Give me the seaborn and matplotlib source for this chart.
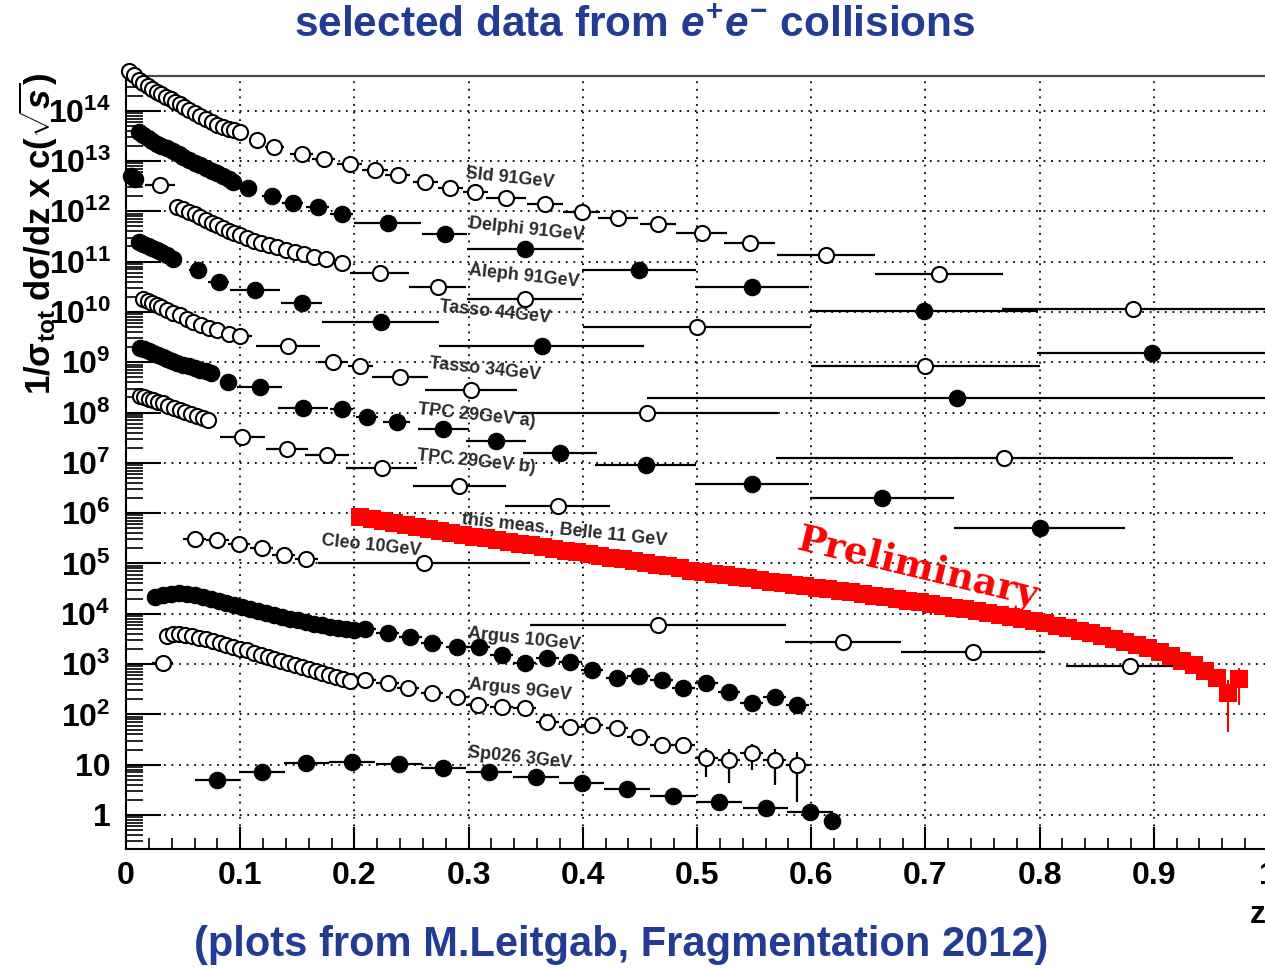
import numpy as np
import pandas as pd
import matplotlib
matplotlib.use("Agg")
import matplotlib.pyplot as plt
import seaborn as sns
from matplotlib.ticker import FixedLocator, FuncFormatter, LogLocator, MultipleLocator, NullFormatter

# ---------------------------------------------------------------------------
# Data: z, log10 of (1/sigma_tot dsigma/dz x c(sqrt s)), half bin width in z
# ---------------------------------------------------------------------------
sld_z = [0.003, 0.007, 0.011, 0.015, 0.019, 0.023, 0.027, 0.031, 0.035, 0.039, 0.043, 0.047,
         0.051, 0.055, 0.060, 0.065, 0.070, 0.075, 0.080, 0.085, 0.090, 0.095, 0.100,
         0.115, 0.130, 0.154, 0.173, 0.196, 0.218, 0.238, 0.262, 0.284, 0.306, 0.333, 0.367,
         0.399, 0.431, 0.466, 0.504, 0.546, 0.613, 0.712, 0.882]
sld_lg = [14.78, 14.70, 14.62, 14.55, 14.49, 14.43, 14.38, 14.33, 14.28, 14.23, 14.18, 14.13,
          14.08, 14.02, 13.95, 13.89, 13.83, 13.77, 13.72, 13.68, 13.64, 13.61, 13.58,
          13.42, 13.28, 13.14, 13.04, 12.94, 12.82, 12.72, 12.58, 12.47, 12.39, 12.27, 12.15,
          11.99, 11.87, 11.75, 11.57, 11.37, 11.13, 10.76, 10.06]
sld_dz = [0, 0, 0, 0, 0, 0, 0, 0, 0, 0, 0, 0,
          0, 0, 0, 0, 0, 0, 0, 0, 0, 0, 0,
          0.007, 0.008, 0.010, 0.010, 0.011, 0.011, 0.011, 0.011, 0.011, 0.011, 0.0175, 0.016,
          0.016, 0.0175, 0.016, 0.022, 0.022, 0.043, 0.056, 0.115]

delphi_z = [0.004, 0.008, 0.011, 0.015, 0.019, 0.023, 0.027, 0.031, 0.036, 0.041, 0.046, 0.050,
            0.055, 0.060, 0.065, 0.070, 0.075, 0.080, 0.085, 0.090, 0.094,
            0.107, 0.128, 0.146, 0.168, 0.189, 0.229, 0.279, 0.349, 0.449, 0.548, 0.699, 0.898]
delphi_lg = [12.70, 12.64, 13.58, 13.51, 13.46, 13.39, 13.34, 13.30, 13.26, 13.19, 13.13, 13.08,
             13.03, 12.97, 12.92, 12.87, 12.81, 12.76, 12.70, 12.64, 12.58,
             12.47, 12.31, 12.17, 12.09, 11.95, 11.77, 11.55, 11.25, 10.84, 10.50, 10.02, 9.18]
delphi_dz = [0, 0, 0, 0, 0, 0, 0, 0, 0, 0, 0, 0,
             0, 0, 0, 0, 0, 0, 0, 0, 0,
             0.007, 0.009, 0.009, 0.010, 0.010, 0.029, 0.020, 0.050, 0.050, 0.050, 0.100, 0.100]

aleph_z = [0.030, 0.045, 0.050, 0.055, 0.060, 0.065, 0.070, 0.075, 0.080, 0.085, 0.090, 0.095,
           0.100, 0.106, 0.112, 0.118, 0.125, 0.132, 0.140, 0.148, 0.156, 0.165, 0.175, 0.189,
           0.222, 0.273, 0.349, 0.500, 0.700]
aleph_lg = [12.52, 12.09, 12.04, 11.99, 11.94, 11.89, 11.83, 11.77, 11.72, 11.66, 11.61, 11.56,
            11.52, 11.47, 11.42, 11.38, 11.33, 11.29, 11.24, 11.19, 11.15, 11.10, 11.05, 10.97,
            10.78, 10.50, 10.26, 9.70, 8.93]
aleph_dz = [0.013, 0, 0, 0, 0, 0, 0, 0, 0, 0, 0, 0,
            0, 0, 0, 0, 0, 0, 0, 0, 0, 0, 0, 0,
            0.026, 0.025, 0.050, 0.100, 0.100]

tasso44_z = [0.011, 0.015, 0.019, 0.023, 0.027, 0.031, 0.036, 0.041, 0.063, 0.081, 0.113, 0.154,
             0.223, 0.364, 0.728]
tasso44_lg = [11.39, 11.35, 11.31, 11.27, 11.23, 11.19, 11.13, 11.05, 10.83, 10.60, 10.44, 10.18,
              9.80, 9.32, 8.29]
tasso44_dz = [0, 0, 0, 0, 0, 0, 0, 0, 0.008, 0.009, 0.022, 0.018,
              0.051, 0.090, 0.272]

tasso34_z = [0.015, 0.019, 0.023, 0.027, 0.031, 0.036, 0.041, 0.047, 0.053, 0.059, 0.066, 0.073,
             0.080, 0.090, 0.100, 0.142, 0.181, 0.205, 0.240, 0.302, 0.456, 0.769]
tasso34_lg = [10.26, 10.22, 10.18, 10.14, 10.10, 10.04, 9.98, 9.93, 9.86, 9.80, 9.74, 9.69,
              9.64, 9.56, 9.52, 9.32, 9.01, 8.93, 8.71, 8.45, 7.99, 7.10]
tasso34_dz = [0, 0, 0, 0, 0, 0, 0, 0, 0, 0, 0, 0,
              0, 0.005, 0.010, 0.028, 0.013, 0.011, 0.0245, 0.040, 0.115, 0.200]

tpca_z = [0.012, 0.016, 0.020, 0.024, 0.028, 0.032, 0.036, 0.040, 0.045, 0.050, 0.055, 0.060,
          0.065, 0.070, 0.074, 0.089, 0.117, 0.155, 0.189, 0.211, 0.237, 0.278, 0.324, 0.380,
          0.455, 0.548, 0.662, 0.800]
tpca_lg = [9.28, 9.26, 9.22, 9.18, 9.14, 9.10, 9.06, 9.02, 8.99, 8.95, 8.92, 8.88,
           8.85, 8.82, 8.79, 8.61, 8.51, 8.09, 8.07, 7.91, 7.81, 7.67, 7.44, 7.20,
           6.96, 6.58, 6.30, 5.71]
tpca_dz = [0, 0, 0, 0, 0, 0, 0, 0, 0, 0, 0, 0,
           0, 0, 0, 0.005, 0.020, 0.022, 0.010, 0.010, 0.012, 0.022, 0.026, 0.032,
           0.044, 0.050, 0.063, 0.075]

tpcb_z = [0.012, 0.016, 0.020, 0.024, 0.028, 0.032, 0.037, 0.042, 0.047, 0.052, 0.057, 0.062,
          0.067, 0.072, 0.102, 0.141, 0.176, 0.224, 0.292, 0.378]
tpcb_lg = [8.33, 8.30, 8.27, 8.24, 8.21, 8.18, 8.14, 8.10, 8.06, 8.02, 7.98, 7.94,
           7.89, 7.85, 7.51, 7.28, 7.16, 6.90, 6.54, 6.14]
tpcb_dz = [0, 0, 0, 0, 0, 0, 0, 0, 0, 0, 0, 0,
           0, 0, 0.020, 0.018, 0.019, 0.031, 0.041, 0.046]

belle_z = [0.205, 0.215, 0.225, 0.235, 0.245, 0.255, 0.265, 0.275, 0.285, 0.295,
           0.305, 0.315, 0.325, 0.335, 0.345, 0.355, 0.365, 0.375, 0.385, 0.395,
           0.405, 0.415, 0.425, 0.435, 0.445, 0.455, 0.465, 0.475, 0.485, 0.495,
           0.505, 0.515, 0.525, 0.535, 0.545, 0.555, 0.565, 0.575, 0.585, 0.595,
           0.605, 0.615, 0.625, 0.635, 0.645, 0.655, 0.665, 0.675, 0.685, 0.695,
           0.705, 0.715, 0.725, 0.735, 0.745, 0.755, 0.765, 0.775, 0.785, 0.795,
           0.805, 0.815, 0.825, 0.835, 0.845, 0.855, 0.865, 0.875, 0.885, 0.895,
           0.905, 0.915, 0.925, 0.935, 0.945, 0.955, 0.965, 0.975]
belle_lg = [5.93, 5.89, 5.85, 5.81, 5.77, 5.73, 5.69, 5.65, 5.61, 5.57,
            5.53, 5.50, 5.46, 5.43, 5.39, 5.36, 5.32, 5.29, 5.25, 5.22,
            5.18, 5.15, 5.11, 5.08, 5.04, 5.01, 4.97, 4.94, 4.90, 4.86,
            4.83, 4.80, 4.77, 4.74, 4.71, 4.67, 4.64, 4.61, 4.58, 4.55,
            4.52, 4.49, 4.46, 4.43, 4.40, 4.36, 4.33, 4.30, 4.26, 4.23,
            4.19, 4.16, 4.12, 4.09, 4.05, 4.01, 3.97, 3.93, 3.89, 3.85,
            3.81, 3.76, 3.71, 3.66, 3.61, 3.56, 3.50, 3.44, 3.38, 3.31,
            3.24, 3.16, 3.07, 2.98, 2.87, 2.73, 2.42, 2.70]
# statistical errors of the highest-z Belle bins (absolute, same units as the values)
belle_tail_z = [0.965, 0.975]
belle_tail_err = [218.0, 346.0]

cleo_z = [0.060, 0.080, 0.099, 0.119, 0.138, 0.158, 0.261, 0.466, 0.628, 0.742, 0.879]
cleo_lg = [5.49, 5.47, 5.39, 5.31, 5.17, 5.09, 5.01, 3.78, 3.44, 3.24, 2.96]
cleo_dz = [0.010, 0.010, 0.010, 0.010, 0.010, 0.010, 0.093, 0.112, 0.051, 0.063, 0.056]

argus10_z = [0.025, 0.032, 0.039, 0.046, 0.053, 0.060, 0.067, 0.074, 0.081, 0.088, 0.095, 0.102,
             0.109, 0.116, 0.123, 0.130, 0.137, 0.144, 0.151, 0.158, 0.165, 0.172, 0.179, 0.186,
             0.193, 0.200, 0.209, 0.229, 0.249, 0.268, 0.290, 0.309, 0.329, 0.349, 0.369, 0.389,
             0.408, 0.430, 0.449, 0.469, 0.488, 0.508, 0.528, 0.548, 0.568, 0.588]
argus10_lg = [4.33, 4.37, 4.40, 4.41, 4.40, 4.37, 4.33, 4.29, 4.25, 4.21, 4.17, 4.13,
              4.09, 4.05, 4.02, 3.98, 3.94, 3.90, 3.87, 3.84, 3.80, 3.77, 3.73, 3.71,
              3.69, 3.67, 3.70, 3.62, 3.54, 3.42, 3.34, 3.34, 3.18, 3.02, 3.12, 3.04,
              2.88, 2.72, 2.76, 2.68, 2.52, 2.62, 2.45, 2.23, 2.35, 2.19]
argus10_dz = [0, 0, 0, 0, 0, 0, 0, 0, 0, 0, 0, 0,
              0, 0, 0, 0, 0, 0, 0, 0, 0, 0, 0, 0,
              0, 0, 0.010, 0.010, 0.010, 0.010, 0.010, 0.010, 0.010, 0.010, 0.010, 0.010,
              0.010, 0.010, 0.010, 0.010, 0.010, 0.010, 0.010, 0.010, 0.010, 0.010]

argus9_z = [0.032, 0.036, 0.041, 0.046, 0.052, 0.058, 0.064, 0.070, 0.076, 0.082, 0.088, 0.094,
            0.100, 0.106, 0.112, 0.118, 0.124, 0.130, 0.136, 0.142, 0.148, 0.154, 0.160, 0.166,
            0.172, 0.178, 0.184, 0.190, 0.196, 0.209, 0.229, 0.247, 0.268, 0.290, 0.308, 0.329,
            0.349, 0.369, 0.389, 0.408, 0.430, 0.449, 0.469, 0.488, 0.508, 0.528, 0.548, 0.568,
            0.588]
argus9_lg = [3.02, 3.56, 3.60, 3.60, 3.58, 3.55, 3.52, 3.49, 3.46, 3.42, 3.38, 3.34,
             3.30, 3.27, 3.23, 3.19, 3.15, 3.11, 3.07, 3.03, 2.99, 2.94, 2.90, 2.86,
             2.82, 2.78, 2.74, 2.70, 2.66, 2.68, 2.62, 2.52, 2.43, 2.35, 2.19, 2.15,
             2.13, 1.85, 1.75, 1.79, 1.73, 1.55, 1.39, 1.39, 1.13, 1.09, 1.23, 1.09,
             0.99]
argus9_dz = [0.009, 0, 0, 0, 0, 0, 0, 0, 0, 0, 0, 0,
             0, 0, 0, 0, 0, 0, 0, 0, 0, 0, 0, 0,
             0, 0, 0, 0, 0, 0.010, 0.010, 0.010, 0.010, 0.010, 0.010, 0.010,
             0.010, 0.010, 0.010, 0.010, 0.010, 0.010, 0.010, 0.010, 0.010, 0.010, 0.010, 0.010,
             0.010]
argus9_yerr = [0, 0, 0, 0, 0, 0, 0, 0, 0, 0, 0, 0,
               0, 0, 0, 0, 0, 0, 0, 0, 0, 0, 0, 0,
               0, 0, 0, 0, 0, 0, 0, 0, 0, 0, 0, 0,
               0, 0, 0, 0, 0, 0, 0, 0, 7.7, 7.9, 9.2, 8.3,
               8.0]

sp026_z = [0.080, 0.119, 0.158, 0.198, 0.239, 0.278, 0.318, 0.359, 0.399, 0.439, 0.479, 0.519,
           0.560, 0.599, 0.618]
sp026_lg = [0.70, 0.85, 1.03, 1.05, 1.01, 0.93, 0.85, 0.76, 0.64, 0.52, 0.38, 0.26,
            0.14, 0.06, -0.12]
sp026_dz = [0.020, 0.020, 0.020, 0.020, 0.020, 0.020, 0.020, 0.020, 0.020, 0.020, 0.020, 0.020,
            0.020, 0.020, 0.0]

decade_exponents = list(range(0, 15))
x_tick_values = [0.0, 0.1, 0.2, 0.3, 0.4, 0.5, 0.6, 0.7, 0.8, 0.9, 1.0]

# (name, z, log10 value, half bin width, optional y error, open marker?)
series = [
    ("Sld 91GeV", sld_z, sld_lg, sld_dz, None, True),
    ("Delphi 91GeV", delphi_z, delphi_lg, delphi_dz, None, False),
    ("Aleph 91GeV", aleph_z, aleph_lg, aleph_dz, None, True),
    ("Tasso 44GeV", tasso44_z, tasso44_lg, tasso44_dz, None, False),
    ("Tasso 34GeV", tasso34_z, tasso34_lg, tasso34_dz, None, True),
    ("TPC 29GeV a)", tpca_z, tpca_lg, tpca_dz, None, False),
    ("TPC 29GeV b)", tpcb_z, tpcb_lg, tpcb_dz, None, True),
    ("Cleo 10GeV", cleo_z, cleo_lg, cleo_dz, None, True),
    ("Argus 10GeV", argus10_z, argus10_lg, argus10_dz, None, False),
    ("Argus 9GeV", argus9_z, argus9_lg, argus9_dz, argus9_yerr, True),
    ("Sp026 3GeV", sp026_z, sp026_lg, sp026_dz, None, False),
]

# ---------------------------------------------------------------------------
# Style
# ---------------------------------------------------------------------------
sns.set_theme(style="white")
plt.rcParams["font.family"] = ["Liberation Sans", "DejaVu Sans"]
plt.rcParams["font.weight"] = "bold"
plt.rcParams["text.color"] = "black"
plt.rcParams["xtick.color"] = "black"
plt.rcParams["ytick.color"] = "black"
plt.rcParams["xtick.labelcolor"] = "black"
plt.rcParams["ytick.labelcolor"] = "black"
plt.rcParams["mathtext.fontset"] = "custom"
plt.rcParams["mathtext.rm"] = "Liberation Sans:bold"
plt.rcParams["mathtext.bf"] = "Liberation Sans:bold"
plt.rcParams["mathtext.it"] = "Liberation Sans:bold:italic"

W, H = 1265, 968
fig = plt.figure(figsize=(W / 100, H / 100), dpi=100)
ax = fig.add_axes([126 / W, 119 / H, 1142 / W, 773 / H])

# ---------------------------------------------------------------------------
# Data points
# ---------------------------------------------------------------------------
for name, z, lg, dz, yerr, is_open in series:
    df = pd.DataFrame({"z": z, "value": 10.0 ** np.asarray(lg), "dz": dz})
    ax.errorbar(df["z"], df["value"], xerr=df["dz"],
                yerr=None if yerr is None else np.asarray(yerr),
                fmt="none", ecolor="black", elinewidth=1.6, capsize=0, zorder=2)
    if is_open:
        sns.scatterplot(data=df, x="z", y="value", ax=ax, marker="o", s=118,
                        color="white", edgecolor="black", linewidth=1.5, zorder=3)
    else:
        sns.scatterplot(data=df, x="z", y="value", ax=ax, marker="o", s=140,
                        color="black", edgecolor="black", linewidth=0.8, zorder=3)

# Belle measurement: full squares forming the band, with its tail errors
belle_df = pd.DataFrame({"z": belle_z, "value": 10.0 ** np.asarray(belle_lg)})
tail = belle_df[belle_df["z"].round(3).isin(belle_tail_z)]
ax.errorbar(tail["z"], tail["value"], yerr=belle_tail_err, fmt="none",
            ecolor="red", elinewidth=1.5, capsize=0, zorder=4)
sns.scatterplot(data=belle_df, x="z", y="value", ax=ax, marker="s", s=150,
                color="red", edgecolor="red", linewidth=0, zorder=4)

for coll in ax.collections:
    coll.set_clip_on(False)

# ---------------------------------------------------------------------------
# Axes
# ---------------------------------------------------------------------------
ax.set_yscale("log")
ax.set_xlim(0, 1)
ax.set_ylim(10 ** -0.676, 10 ** 14.69)
ax.set_xlabel("")
ax.set_ylabel("")

ax.yaxis.set_major_locator(FixedLocator([10.0 ** e for e in decade_exponents]))
ax.yaxis.set_minor_locator(LogLocator(base=10, subs=np.arange(2, 10), numticks=200))
ax.yaxis.set_minor_formatter(NullFormatter())


def decade_label(v, pos):
    e = int(round(np.log10(v)))
    if e == 0:
        return "1"
    if e == 1:
        return "10"
    return r"$10^{%d}$" % e


ax.yaxis.set_major_formatter(FuncFormatter(decade_label))

ax.xaxis.set_major_locator(FixedLocator(x_tick_values))
ax.xaxis.set_minor_locator(MultipleLocator(0.02))


def z_label(v, pos):
    if abs(v) < 1e-9:
        return "0"
    if abs(v - 1) < 1e-9:
        return "1"
    return "%.1f" % v


ax.xaxis.set_major_formatter(FuncFormatter(z_label))

ax.tick_params(axis="y", which="major", direction="in", length=25, width=1.5,
               labelsize=23, pad=11, left=True, right=False, colors="black")
ax.tick_params(axis="y", which="minor", direction="in", length=12, width=1.2,
               left=True, right=False, colors="black")
ax.tick_params(axis="x", which="major", direction="in", length=16, width=1.5,
               labelsize=23, pad=9, bottom=True, top=False, colors="black")
ax.tick_params(axis="x", which="minor", direction="in", length=8, width=1.2,
               bottom=True, top=False, colors="black")
for lab in ax.get_xticklabels() + ax.get_yticklabels():
    lab.set_fontweight("bold")
    lab.set_color("black")

ax.grid(True, which="major", color="black", linestyle=(0, (1, 3.2)), linewidth=1.3)
ax.set_axisbelow(True)

for side in ("left", "bottom"):
    ax.spines[side].set_color("black")
    ax.spines[side].set_linewidth(1.5)
ax.spines["top"].set_color("#4a4a4a")
ax.spines["top"].set_linewidth(1.6)
ax.spines["right"].set_visible(False)

# ---------------------------------------------------------------------------
# Series labels
# ---------------------------------------------------------------------------
labels = [
    ("Sld 91GeV", 0.336, 12.66),
    ("Delphi 91GeV", 0.351, 11.63),
    ("Aleph 91GeV", 0.349, 10.70),
    ("Tasso 44GeV", 0.323, 10.00),
    ("Tasso 34GeV", 0.314, 8.85),
    ("TPC 29GeV a)", 0.307, 7.93),
    ("TPC 29GeV b)", 0.307, 7.02),
    ("this meas., Belle 11 GeV", 0.384, 5.65),
    ("Cleo 10GeV", 0.215, 5.35),
    ("Argus 10GeV", 0.349, 3.48),
    ("Argus 9GeV", 0.345, 2.49),
    ("Sp026 3GeV", 0.345, 1.13),
]
for text, zx, ly in labels:
    ax.text(zx, 10 ** ly, text, fontsize=13, fontweight="bold", color="#2b2b2b",
            rotation=-6, rotation_mode="anchor", ha="center", va="center", zorder=6)

ax.text(0.6935, 10 ** 4.92, "Preliminary", fontsize=27, fontweight="bold",
        family=["DejaVu Serif"], color="#ff0000", rotation=-13.5,
        rotation_mode="anchor", ha="center", va="center", zorder=7)

# ---------------------------------------------------------------------------
# Figure texts
# ---------------------------------------------------------------------------
fig.text(38 / W, 1 - 234 / H, r"1/σ$_{\rm tot}$ dσ/dz x c($\sqrt{s}$)",
         rotation=90, ha="center", va="center", fontsize=25, fontweight="bold", color="black")
fig.text(1258 / W, 1 - 915 / H, "z", ha="center", va="center", fontsize=23,
         fontweight="bold", color="black")

title_blue = "#233C93"
fig.text(635 / W, 1 - 26 / H, r"selected data from $e^{+}e^{-}$ collisions",
         ha="center", va="center", fontsize=30.5, fontweight="bold", color=title_blue)
fig.text(621 / W, 1 - 945 / H, "(plots from M.Leitgab, Fragmentation 2012)",
         ha="center", va="center", fontsize=30, fontweight="bold", color=title_blue)

fig.savefig("out.png", dpi=100)
